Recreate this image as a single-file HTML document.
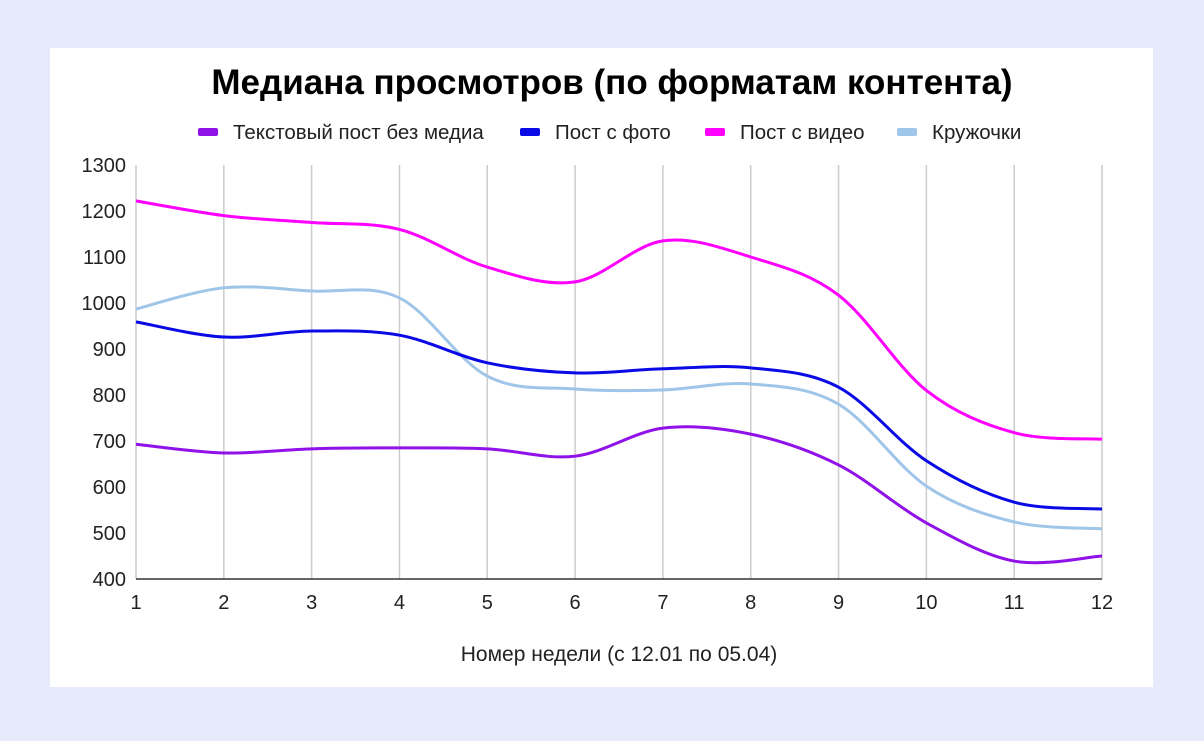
<!DOCTYPE html>
<html><head><meta charset="utf-8"><style>
body{margin:0;width:1204px;height:741px;background:#e6eafb;overflow:hidden;font-family:"Liberation Sans",Arial,sans-serif}
#card{position:absolute;left:50px;top:48px;width:1103px;height:639px;background:#fff}
svg{position:absolute;left:0;top:0}
</style></head><body>
<div id="card"></div>
<svg id="chart" width="1204" height="741">
<text x="612" y="94" text-anchor="middle" font-size="35" font-weight="bold" fill="#000">Медиана просмотров (по форматам контента)</text>
<g id="legend"></g>
<g id="grid"></g><g id="lines"></g><g id="labels"></g>
<text x="619" y="661" text-anchor="middle" font-size="21" fill="#222">Номер недели (с 12.01 по 05.04)</text>
</svg>
<script>
const weeks=[1,2,3,4,5,6,7,8,9,10,11,12];
const yTicks=[400,500,600,700,800,900,1000,1100,1200,1300];
const seriesNames=["Текстовый пост без медиа","Пост с фото","Пост с видео","Кружочки"];
const textPost=[693,674,683,685,683,667,728,715,648,522,439,450];
const photoPost=[959,926,939,930,870,848,857,859,817,657,567,552];
const videoPost=[1222,1190,1175,1160,1078,1046,1135,1100,1017,810,718,704];
const circles=[987,1033,1026,1011,841,813,811,824,780,602,524,509];
const colors=["#9012e8","#0a0ae6","#ff00ff","#9fc5e8"];
const NS="http://www.w3.org/2000/svg";
const x=w=>136+(w-1)*(1102-136)/11;
const y=v=>579-(v-400)*(579-165)/900;
function mk(t,a,p){const e=document.createElementNS(NS,t);for(const k in a)e.setAttribute(k,a[k]);p.appendChild(e);return e;}
const grid=document.getElementById('grid'),labels=document.getElementById('labels'),lines=document.getElementById('lines'),legend=document.getElementById('legend');
weeks.forEach(w=>{const l=mk('line',{x1:x(w),x2:x(w),y1:165,y2:579,stroke:'#cccccc','stroke-width':1.5},grid);


const t=mk('text',{x:x(w),y:609,'text-anchor':'middle','font-size':20,fill:'#222'},labels);t.textContent=w;

});
mk('line',{x1:136,x2:1102,y1:579,y2:579,stroke:'#333','stroke-width':1.5},grid);
yTicks.forEach(v=>{const t=mk('text',{x:126,y:y(v)+7,'text-anchor':'end','font-size':20,fill:'#222'},labels);t.textContent=v;

});
function path(vals){const p=vals.map((v,i)=>[x(weeks[i]),y(v)]);let d='M'+p[0];
for(let i=0;i<p.length-1;i++){const p0=p[i-1]||p[i],p1=p[i],p2=p[i+1],p3=p[i+2]||p2;const s=6;
d+=' C'+(p1[0]+(p2[0]-p0[0])/s)+','+(p1[1]+(p2[1]-p0[1])/s)+' '+(p2[0]-(p3[0]-p1[0])/s)+','+(p2[1]-(p3[1]-p1[1])/s)+' '+p2;}return d;}
const all=[textPost,photoPost,videoPost,circles];
[3,0,1,2].forEach(i=>{const e=mk('path',{d:path(all[i]),fill:'none',stroke:colors[i],'stroke-width':3},lines);

});
const lx=[198,520,705,897];
seriesNames.forEach((n,i)=>{const g=mk('g',{},legend);


mk('rect',{x:lx[i],y:128,width:20,height:8,rx:2,fill:colors[i]},g);
const t=mk('text',{x:lx[i]+35,y:139,'font-size':20.5,fill:'#222'},g);t.textContent=n;});
</script>
</body></html>
